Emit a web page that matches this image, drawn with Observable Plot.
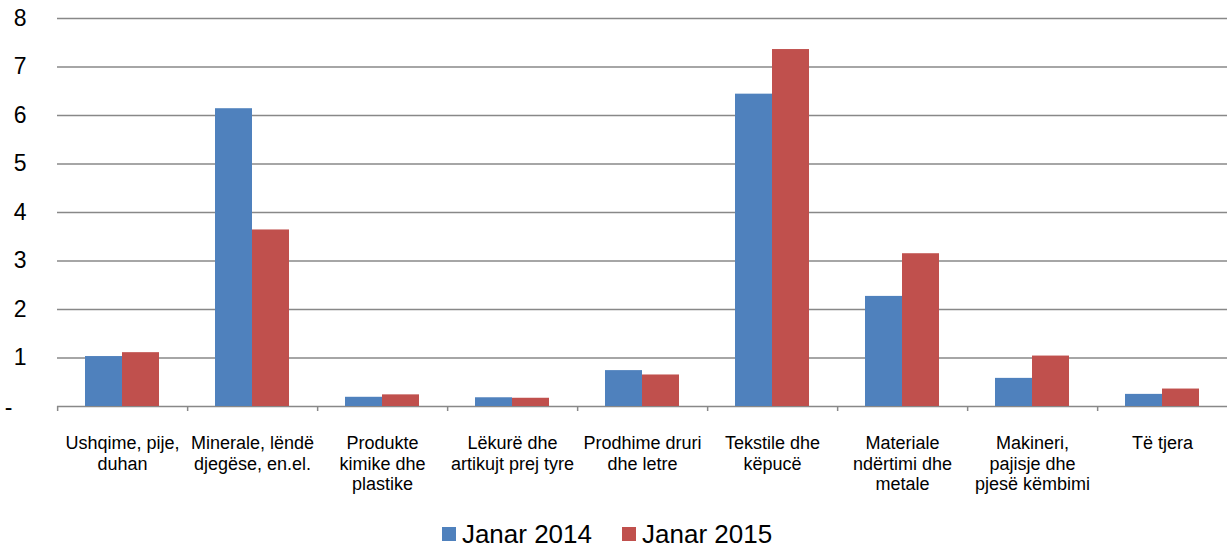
<!DOCTYPE html>
<html>
<head>
<meta charset="utf-8">
<script src="https://cdn.jsdelivr.net/npm/d3@7"></script>
<script src="https://cdn.jsdelivr.net/npm/@observablehq/plot@0.6"></script>
<style>
  html, body { margin: 0; padding: 0; background: #fff; }
  body { font-family: "Liberation Sans", Arial, sans-serif; width: 1228px; }
  #legend { height: 28px; display: flex; justify-content: center; align-items: center; padding-right: 14px; padding-top: 2px; line-height: 1; }
  #legend > div { font-size: 26px !important; line-height: 1 !important; font-family: "Liberation Sans", Arial, sans-serif !important; color: #000 !important; min-height: 0 !important; margin: 0 !important; }
  #legend span { margin-right: 30px !important; line-height: 1 !important; }
  #legend span:last-child { margin-right: 0 !important; }
  #legend svg { margin-right: 6px !important; }
</style>
</head>
<body>
<div id="chart"></div>
<div id="legend"></div>
<script>
// ---- data ----
const categories = [
  "Ushqime, pije, duhan",
  "Minerale, lëndë djegëse, en.el.",
  "Produkte kimike dhe plastike",
  "Lëkurë dhe artikujt prej tyre",
  "Prodhime druri dhe letre",
  "Tekstile dhe këpucë",
  "Materiale ndërtimi dhe metale",
  "Makineri, pajisje dhe pjesë këmbimi",
  "Të tjera"
];
const tickLabels = [
  "Ushqime, pije,\nduhan",
  "Minerale, lëndë\ndjegëse, en.el.",
  "Produkte\nkimike dhe\nplastike",
  "Lëkurë dhe\nartikujt prej tyre",
  "Prodhime druri\ndhe letre",
  "Tekstile dhe\nkëpucë",
  "Materiale\nndërtimi dhe\nmetale",
  "Makineri,\npajisje dhe\npjesë këmbimi",
  "Të tjera"
];
const series = ["Janar 2014", "Janar 2015"];
const values2014 = [1.03, 6.14, 0.19, 0.18, 0.74, 6.44, 2.27, 0.58, 0.25];
const values2015 = [1.11, 3.64, 0.24, 0.17, 0.65, 7.36, 3.15, 1.04, 0.36];
const seriesColors = ["#4F81BD", "#C0504D"];
const yTicks = [1, 2, 3, 4, 5, 6, 7, 8];

// ---- table ----
const data = categories.flatMap((c, i) => [
  {category: c, series: series[0], value: values2014[i]},
  {category: c, series: series[1], value: values2015[i]}
]);

// ---- layout ----
const W = 1228, H = 518, mL = 56, mR = 0, mT = 18, mB = 112;
const facetW = (W - mL - mR) / categories.length;
const outerPad = 0.736;
const step = facetW / (series.length + 2 * outerPad);
const boundaryDx = -(outerPad + 0.5) * step;
const gridColor = "#888888";

const chart = Plot.plot({
  width: W,
  height: H,
  marginLeft: mL,
  marginRight: mR,
  marginTop: mT,
  marginBottom: mB,
  style: {fontFamily: "Liberation Sans, Arial, sans-serif", color: "#000", background: "#fff", overflow: "visible"},
  fx: {domain: categories, padding: 0, axis: null, label: null},
  x: {domain: series, paddingInner: 0, paddingOuter: outerPad, axis: null},
  y: {domain: [0, 8], axis: null},
  color: {domain: series, range: seriesColors},
  marks: [
    Plot.ruleY(yTicks, {stroke: gridColor, strokeWidth: 1.5}),
    Plot.ruleY([0], {stroke: gridColor, strokeWidth: 1.5}),
    Plot.ruleX(categories, {fx: d => d, x: () => series[0], y1: 0, y2: 0, insetBottom: -5, dx: boundaryDx, stroke: gridColor, strokeWidth: 1.5}),
    Plot.barY(data, {fx: "category", x: "series", y: "value", fill: "series"}),
    Plot.axisY(yTicks, {tickSize: 0, tickPadding: 31, fontSize: 23, fill: "#000", label: null}),
    Plot.axisY([0], {tickFormat: () => "-", tickSize: 0, tickPadding: 45, fontSize: 23, fill: "#000", dy: 1, label: null}),
    Plot.axisFx({
      anchor: "bottom",
      tickSize: 0,
      tickPadding: 28,
      fontSize: 18,
      lineHeight: 1.14,
      fill: "#000",
      label: null,
      tickFormat: d => tickLabels[categories.indexOf(d)]
    })
  ]
});
document.getElementById("chart").appendChild(chart);

const legend = Plot.legend({
  color: {domain: series, range: seriesColors},
  legend: "swatches",
  swatchSize: 14
});
document.getElementById("legend").appendChild(legend);
</script>
</body>
</html>
